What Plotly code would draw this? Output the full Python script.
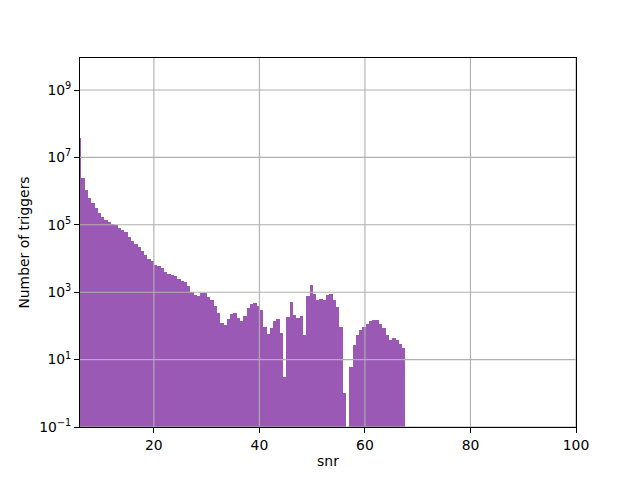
import numpy as np
import plotly.graph_objects as go

# Histogram definition (100 equal bins; the first bin lies left of the visible x range)
snr_min = 5.0
snr_max = 67.68
n_bins = 100

# Counts for bins 2..100
counts = [
    38900000, 2400000, 1070000, 631000, 447000, 309000, 229000, 170000, 138000, 120000,
    105000, 97700, 81300, 69200, 60300, 44200, 33900, 26900, 21400, 16200,
    12900, 10000, 8320, 6460, 6030, 5250, 3890, 3390, 3160, 3120,
    2400, 2090, 1950, 1510, 1020, 832, 776, 955, 940, 724,
    589, 389, 240, 123, 107, 162, 224, 240, 174, 141,
    200, 339, 447, 479, 389, 295, 93, 58, 87, 141,
    162, 62, 3, 186, 513, 209, 174, 200, 54, 776,
    1620, 891, 589, 631, 600, 832, 891, 589, 363, 93,
    1, 0, 6, 28, 54, 76, 95, 115, 141, 151,
    148, 115, 85, 54, 38, 44, 38, 30, 22,
]

x_ticks = [20, 40, 60, 80, 100]
y_ticks = [1e-1, 1e1, 1e3, 1e5, 1e7, 1e9]
y_tick_text = ["10<sup>\u22121</sup>", "10<sup>1</sup>", "10<sup>3</sup>",
               "10<sup>5</sup>", "10<sup>7</sup>", "10<sup>9</sup>"]
x_range = [6, 100]
y_log_range = [-1, 9.95]

edges = np.linspace(snr_min, snr_max, n_bins + 1)
left = edges[1:-1]
right = edges[2:]
centers = (left + right) / 2
bin_w = edges[1] - edges[0]

fig = go.Figure()
fig.add_trace(go.Bar(
    x=centers, y=counts, width=bin_w,
    marker=dict(color="#9b59b6", line=dict(width=0)),
    hoverinfo="skip", showlegend=False,
))

# grid drawn above the bars (as in matplotlib)
gx, gy = [], []
for t in x_ticks:
    gx += [t, t, None]
    gy += [10 ** y_log_range[0], 10 ** y_log_range[1], None]
for v in y_ticks:
    gx += [x_range[0], x_range[1], None]
    gy += [v, v, None]
fig.add_trace(go.Scatter(
    x=gx, y=gy, mode="lines",
    line=dict(color="#b0b0b0", width=1.1),
    hoverinfo="skip", showlegend=False, cliponaxis=True,
))

# the page body adds an 8px offset; margins compensate so the axes land where the reference has them
off = 8
font = dict(family="DejaVu Sans", size=13.9, color="black")
fig.update_layout(
    width=640, height=480,
    margin=dict(l=80 - off, r=64 + off, t=57.6 - off, b=52.8 + off, autoexpand=False),
    paper_bgcolor="white", plot_bgcolor="white",
    font=font,
    bargap=0,
    xaxis=dict(
        range=x_range, tickvals=x_ticks, ticks="outside", ticklen=4.9, tickwidth=1.1,
        tickcolor="black", showgrid=False, zeroline=False, automargin=False,
        showline=True, linecolor="black", linewidth=1.1, mirror=True,
        title=dict(text="snr", font=font, standoff=4), tickfont=font,
        layer="above traces",
    ),
    yaxis=dict(
        type="log", range=y_log_range, tickvals=y_ticks, ticktext=y_tick_text,
        ticks="outside", ticklen=4.9, tickwidth=1.1, tickcolor="black",
        showgrid=False, zeroline=False, automargin=False,
        showline=True, linecolor="black", linewidth=1.1, mirror=True,
        title=dict(text="Number of triggers", font=font, standoff=6), tickfont=font,
        layer="above traces",
    ),
)

fig.write_html("out.html")
